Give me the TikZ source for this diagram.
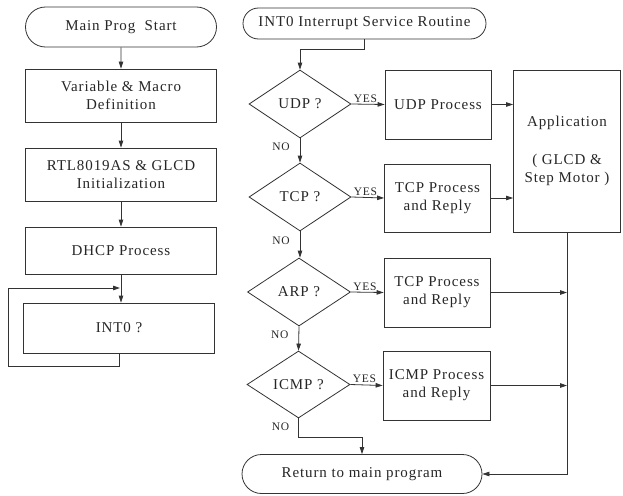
\documentclass[tikz,border=0pt]{standalone}
\usepackage{fontspec}
\setmainfont{Liberation Serif}[LetterSpace=6]
\usetikzlibrary{shapes.geometric,shapes.misc,arrows.meta}
\begin{document}
\begin{tikzpicture}[x=1pt,y=-1pt,
  every node/.style={font=\fontsize{15}{18}\selectfont, text=black!85},
  ln/.style={draw=black!80, line width=0.8pt},
  arr/.style={ln, -{Triangle[length=7pt,width=4.5pt]}},
  term/.style={ln, rounded rectangle, inner sep=0pt},
  boxx/.style={ln, rectangle, inner sep=0pt, align=center},
  dec/.style={ln, diamond, aspect=1.5, inner sep=0pt},
  lbl/.style={font=\fontsize{11.5}{12}\selectfont, inner sep=1pt}]
\useasboundingbox (0,0) rectangle (623,495);
% left column
\node[term, minimum width=191pt, minimum height=40pt] (ms) at (121,27) {Main Prog\ \ Start};
\node[boxx, minimum width=191pt, minimum height=53pt] (var) at (121,95.5) {Variable \& Macro\\Definition};
\node[boxx, minimum width=191pt, minimum height=53pt] (rtl) at (121,174.5) {RTL8019AS \& GLCD\\Initialization};
\node[boxx, minimum width=191pt, minimum height=47pt] (dhcp) at (121,250.5) {DHCP Process};
\node[boxx, minimum width=191pt, minimum height=50pt] (int) at (119,328) {INT0 ?};
\coordinate (lbl1) at (8,366);
\coordinate (ltl) at (8,288);
\coordinate (join) at (120,288);
\draw[arr] (ms) -- (var);
\draw[arr] (var) -- (rtl);
\draw[arr] (rtl) -- (dhcp);
\draw[arr] (dhcp.south) -- (dhcp.south |- int.north);
\draw[arr] (int.south) |- (lbl1) -- (ltl) -- (join);
% right column
\node[term, minimum width=243pt, minimum height=31pt] (isr) at (364.5,23.5) {INT0\ Interrupt\ Service\ Routine};
\node[dec, minimum width=102pt, minimum height=68pt] (udp) at (300,104) {UDP ?};
\node[dec, minimum width=102pt, minimum height=68pt] (tcp) at (300,197) {TCP ?};
\node[dec, minimum width=103pt, minimum height=68pt] (arp) at (299,292) {ARP ?};
\node[dec, minimum width=103pt, minimum height=67pt] (icmp) at (298.5,384.5) {ICMP ?};
\node[boxx, minimum width=106pt, minimum height=69pt] (udpp) at (438,104.5) {UDP Process};
\node[boxx, minimum width=106pt, minimum height=68pt] (tcpp) at (437.5,198) {TCP Process\\and Reply};
\node[boxx, minimum width=106pt, minimum height=69pt] (arpp) at (437,292.5) {TCP Process\\and Reply};
\node[boxx, minimum width=107pt, minimum height=69pt] (icmpp) at (436.5,385.5) {ICMP Process\\and Reply};
\node[boxx, minimum width=107pt, minimum height=162pt, align=center] (app) at (567,151) {Application\\[20pt]( GLCD \&\\Step Motor )};
\node[term, minimum width=240pt, minimum height=39pt] (ret) at (362,474) {Return to main program};
\draw[arr] (isr.south) -- ++(0,10) -| (udp.north);
\draw[arr] (udp.east) -- node[lbl, pos=0, anchor=south west, xshift=1pt]{YES} (udpp.west);
\draw[arr] (tcp.east) -- node[lbl, pos=0, anchor=south west, xshift=1pt]{YES} (tcpp.west);
\draw[arr] (arp.east) -- node[lbl, pos=0, anchor=south west, xshift=1pt]{YES} (arpp.west);
\draw[arr] (icmp.east) -- node[lbl, pos=0, anchor=south west, xshift=1pt]{YES} (icmpp.west);
\draw[arr] (udp.south) -- node[lbl, pos=0.36, anchor=east, xshift=-9pt]{NO} (tcp.north);
\draw[arr] (tcp.south) -- node[lbl, pos=0.36, anchor=east, xshift=-9pt]{NO} (tcp.south |- arp.north);
\draw[arr] (arp.south) -- node[lbl, pos=0.36, anchor=east, xshift=-9pt]{NO} (icmp.north);
\draw[arr] (icmp.south) -- node[lbl, pos=0.45, anchor=east, xshift=-8pt]{NO} ++(0,19) -| (ret.north);
\draw[arr] (udpp.east) -- (udpp.east -| app.west);
\draw[arr] (tcpp.east) -- (tcpp.east -| app.west);
\draw[arr] (arpp.east) -- (arpp.east -| app.south);
\draw[arr] (icmpp.east) -- (icmpp.east -| app.south);
\draw[arr] (app.south) |- (ret.east);
\end{tikzpicture}
\end{document}
